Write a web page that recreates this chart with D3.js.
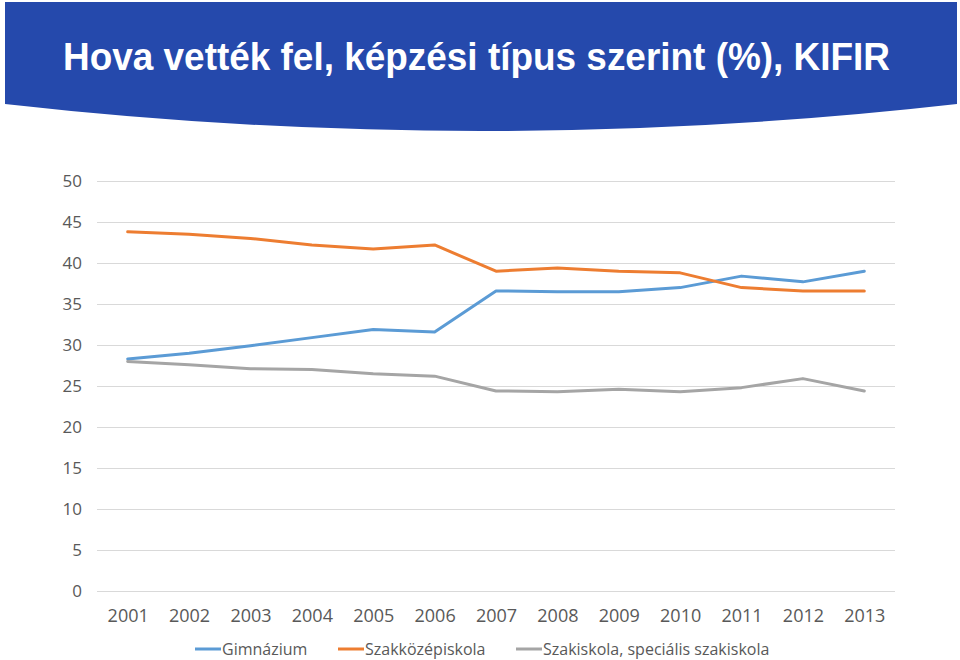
<!DOCTYPE html>
<html><head><meta charset="utf-8">
<script src="https://cdn.jsdelivr.net/npm/d3@7"></script>
<style>body{margin:0;background:#fff}svg{display:block}</style>
</head><body>
<svg id="c" width="960" height="660"></svg>
<script>
const title = "Hova vették fel, képzési típus szerint (%), KIFIR";
const years = ["2001","2002","2003","2004","2005","2006","2007","2008","2009","2010","2011","2012","2013"];
const seriesNames = ["Gimnázium","Szakközépiskola","Szakiskola, speciális szakiskola"];
const gimnazium = [28.3,29.0,29.9,30.9,31.9,31.6,36.6,36.5,36.5,37.0,38.4,37.7,39.0];
const szakkozep = [43.8,43.5,43.0,42.2,41.7,42.2,39.0,39.4,39.0,38.8,37.0,36.6,36.6];
const szakiskola = [28.0,27.6,27.1,27.0,26.5,26.2,24.4,24.3,24.6,24.3,24.8,25.9,24.4];
const yTicks = [0,5,10,15,20,25,30,35,40,45,50];
const colors = ["#5B9BD5","#ED7D31","#A5A5A5"];

const svg = d3.select("#c");
// banner
svg.append("path")
  .attr("d","M5,2 L957,2 L957,104 Q481,158 5,104 Z")
  .attr("fill","#2549AC");
svg.append("text").attr("x",63).attr("y",70)
  .attr("fill","#fff").attr("font-family","Liberation Sans, Arial, sans-serif")
  .attr("font-weight","bold").attr("font-size",39)
  .attr("textLength",827).attr("lengthAdjust","spacingAndGlyphs").text(title);

const L=97,R=895,T=181,B=591;
const x = d3.scalePoint().domain(years).range([L,R]).padding(0.5);
const y = d3.scaleLinear().domain([0,50]).range([B,T]);
const font = "Open Sans, Noto Sans, sans-serif";

const ya = svg.append("g").attr("transform",`translate(${L},0)`)
  .call(d3.axisLeft(y).tickValues(yTicks).tickSize(-(R-L)).tickPadding(15).tickFormat(d3.format("d")));
ya.select(".domain").remove();
ya.selectAll("line").attr("stroke","#D9D9D9").attr("stroke-width",1);
ya.selectAll("text").attr("fill","#595959").attr("font-family",font).attr("font-size",17);

const xa = svg.append("g").attr("transform",`translate(0,${B})`)
  .call(d3.axisBottom(x).tickSize(0).tickPadding(13));
xa.select(".domain").remove();
xa.selectAll("text").attr("fill","#595959").attr("font-family",font).attr("font-size",18)
  .attr("dy","1.0em");

const data = [gimnazium,szakkozep,szakiskola];
const line = d3.line().x((d,i)=>x(years[i])).y(d=>y(d));
data.forEach((s,k)=>{
  svg.append("path").datum(s).attr("d",line).attr("fill","none")
    .attr("stroke",colors[k]).attr("stroke-width",3).attr("stroke-linejoin","round").attr("stroke-linecap","round");
});

// legend
const lg = svg.append("g").attr("transform","translate(0,649)");
const legX = [195,338,516];
seriesNames.forEach((n,k)=>{
  lg.append("line").attr("x1",legX[k]).attr("x2",legX[k]+26).attr("y1",0).attr("y2",0)
    .attr("stroke",colors[k]).attr("stroke-width",3);
  lg.append("text").attr("x",legX[k]+27).attr("y",6).attr("fill","#595959")
    .attr("font-family",font).attr("font-size",16).text(n);
});
</script>
</body></html>
